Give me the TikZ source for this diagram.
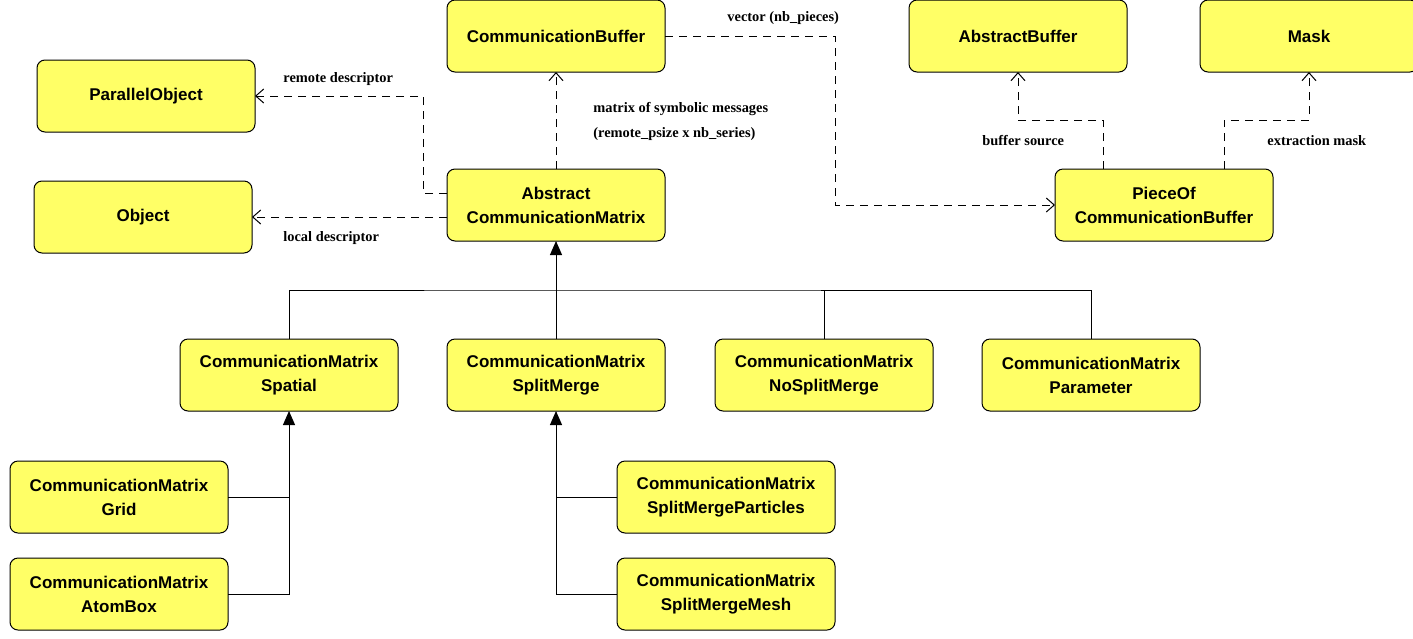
\documentclass[tikz,border=0pt]{standalone}
\usepackage{fontspec}
\setmainfont{Liberation Serif}
\setsansfont{Liberation Sans}
\usetikzlibrary{arrows.meta,calc}
\definecolor{boxyellow}{RGB}{255,255,102}
\tikzset{
  cls/.style={draw=black, fill=boxyellow, rounded corners=4pt, line width=0.5pt,
    minimum width=109pt, minimum height=36pt, inner sep=0pt, outer sep=0pt,
    align=center, font=\sffamily\bfseries\fontsize{8.5}{12}\selectfont},
  lbl/.style={anchor=west, inner sep=0pt, font=\rmfamily\bfseries\fontsize{7.2}{9}\selectfont},
  dep/.style={draw=black, line width=0.5pt, dash pattern=on 4pt off 3pt,
    -{Straight Barb[length=4pt,width=7pt,line width=0.5pt]}},
  inh/.style={draw=black, line width=0.5pt, -{Triangle[length=7pt,width=6pt]}},
  lnk/.style={draw=black, line width=0.5pt}
}
\begin{document}
\begin{tikzpicture}[x=0.5pt,y=-0.5pt]
\useasboundingbox (0,0) rectangle (1413,638);
% nodes
\node[cls] (cb)   at (556,36)  {CommunicationBuffer};
\node[cls] (po)   at (146,96)  {ParallelObject};
\node[cls] (obj)  at (143,217) {Object};
\node[cls] (abs)  at (556,205) {Abstract\\CommunicationMatrix};
\node[cls] (ab)   at (1018,36) {AbstractBuffer};
\node[cls] (mask) at (1309,36) {Mask};
\node[cls] (pob)  at (1164,205) {PieceOf\\CommunicationBuffer};
\node[cls] (sp)   at (289,375) {CommunicationMatrix\\Spatial};
\node[cls] (sm)   at (556,375) {CommunicationMatrix\\SplitMerge};
\node[cls] (nsm)  at (824,375) {CommunicationMatrix\\NoSplitMerge};
\node[cls] (par)  at (1091,375) {CommunicationMatrix\\Parameter};
\node[cls] (grid) at (119,497) {CommunicationMatrix\\Grid};
\node[cls] (atom) at (119,594) {CommunicationMatrix\\AtomBox};
\node[cls] (smp)  at (726,497) {CommunicationMatrix\\SplitMergeParticles};
\node[cls] (smm)  at (726,594) {CommunicationMatrix\\SplitMergeMesh};
% dependency connectors
\draw[dep] (abs.north) -- (cb.south);
\draw[dep] ([yshift=6pt]abs.west) -- ++(-24,0) |- (po.east);
\draw[dep] ([yshift=-6pt]abs.west) -- (obj.east);
\draw[dep] (cb.east) -- ++(170,0) |- (pob.west);
\draw[dep] ([xshift=-30.5pt]pob.north) -- ++(0,-49) -| (ab.south);
\draw[dep] ([xshift=30pt]pob.north) -- ++(0,-49) -| (mask.south);
% labels
\node[lbl] (l1) at (283,79)  {remote descriptor};
\node[lbl] (l2) at (283,238) {local descriptor};
\node[lbl] (l3) at (593,109) {matrix of symbolic messages};
\node[lbl] (l4) at (593,134) {(remote\_psize x nb\_series)};
\node[lbl] (l5) at (727,18)  {vector (nb\_pieces)};
\node[lbl] (l6) at (982,141) {buffer source};
\node[lbl] (l7) at (1267,141) {extraction mask};
% inheritance
\coordinate (bar) at (556,290);
\draw[inh] (sm.north) -- (abs.south);
\draw[lnk] (sp.north) |- (bar) -| (par.north);
\draw[lnk] (nsm.north) -- (nsm.north |- bar);
\draw[inh] (atom.east) -| (sp.south);
\draw[lnk] (grid.east) -- (grid.east -| sp.south);
\draw[inh] (smm.west) -| (sm.south);
\draw[lnk] (smp.west) -- (smp.west -| sm.south);
\end{tikzpicture}
\end{document}
